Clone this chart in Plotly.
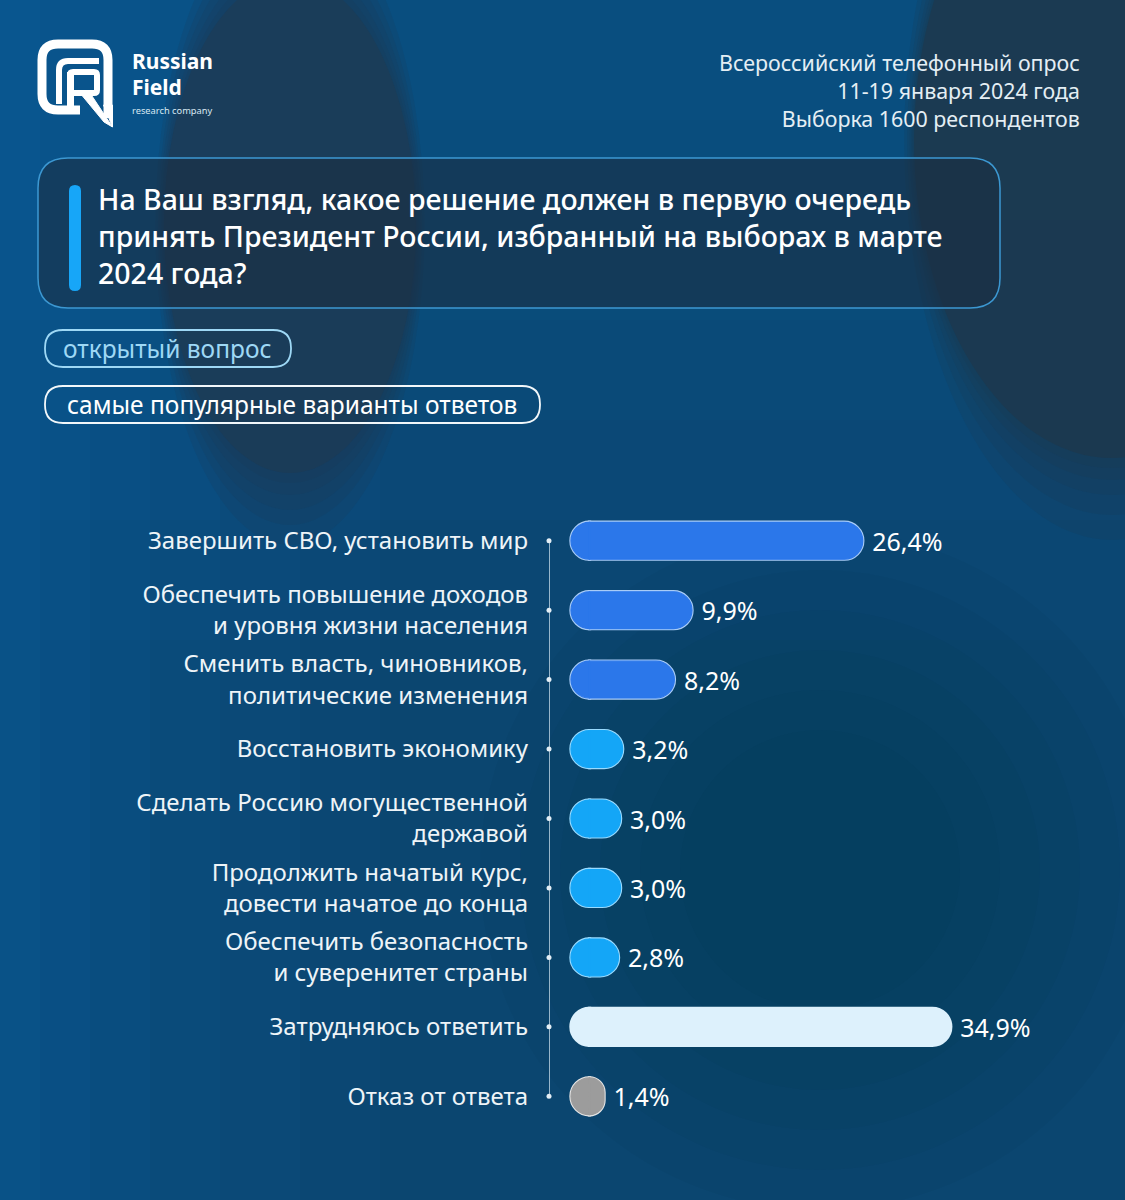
import plotly.graph_objects as go

W, H = 1125, 1200

categories = [
    "Завершить СВО, установить мир",
    "Обеспечить повышение доходов<br>и уровня жизни населения",
    "Сменить власть, чиновников,<br>политические изменения",
    "Восстановить экономику",
    "Сделать Россию могущественной<br>державой",
    "Продолжить начатый курс,<br>довести начатое до конца",
    "Обеспечить безопасность<br>и суверенитет страны",
    "Затрудняюсь ответить",
    "Отказ от ответа",
]
values = [26.4, 9.9, 8.2, 3.2, 3.0, 3.0, 2.8, 34.9, 1.4]
bar_colors = ["#2B77EA", "#2B77EA", "#2B77EA", "#14A6F7", "#14A6F7", "#14A6F7", "#14A6F7", "#DDF1FC", "#9C9C9C"]
bar_outline = ["#A9CCF7", "#A9CCF7", "#A9CCF7", "#9ADBFF", "#9ADBFF", "#9ADBFF", "#9ADBFF", "#DDF1FC", "#E6E6E6"]
value_labels = [" " + ("%.1f" % v).replace(".", ",") + "%" for v in values]

header_right = ["Всероссийский телефонный опрос", "11-19 января 2024 года", "Выборка 1600 респондентов"]
question = ["На Ваш взгляд, какое решение должен в первую очередь",
            "принять Президент России, избранный на выборах в марте",
            "2024 года?"]
pill1 = "открытый вопрос"
pill2 = "самые популярные варианты ответов"

FONT = "Noto Sans"

# pixel layout constants
SCALE = 10.35          # px per percent
BAR_PX = 37            # bar thickness in px
AXIS_PX = 549          # vertical guide line
START_PX = 571         # left end of the pills
ZERO_PX = START_PX + BAR_PX / 2
X_MIN = -(ZERO_PX - AXIS_PX) / SCALE
X_MAX = (W - ZERO_PX) / SCALE
CAP = (BAR_PX / 2) / SCALE


def px(x):
    return x / W


def py(y):
    return 1 - y / H


def path_of(cmds):
    s = ""
    for cmd, ps in cmds:
        s += cmd + " " + " ".join("%.5f,%.5f" % (px(a), py(b)) for a, b in ps) + " "
    return s


def rrect(x0, y0, x1, y1, r):
    return path_of([
        ("M", [(x0 + r, y0)]), ("L", [(x1 - r, y0)]), ("Q", [(x1, y0), (x1, y0 + r)]),
        ("L", [(x1, y1 - r)]), ("Q", [(x1, y1), (x1 - r, y1)]), ("L", [(x0 + r, y1)]),
        ("Q", [(x0, y1), (x0, y1 - r)]), ("L", [(x0, y0 + r)]), ("Q", [(x0, y0), (x0 + r, y0)]),
    ]) + "Z"


def ellipse(cx, cy, rx, ry):
    return dict(x0=px(cx - rx), x1=px(cx + rx), y0=py(cy + ry), y1=py(cy - ry))


fig = go.Figure()

# pill = value bar (rounded right end) + small negative cap (rounded left end)
# outline pass first, then a fill pass (with a thin same-colour edge) hiding the seam at zero
for lw, col in [(3.4, bar_outline), (1.2, bar_colors)]:
    fig.add_trace(go.Bar(
        x=[-CAP] * len(categories), y=categories, orientation="h",
        marker=dict(color=bar_colors, line=dict(color=col, width=lw), cornerradius="50%"),
        width=0.53, hoverinfo="skip",
    ))
    fig.add_trace(go.Bar(
        x=values, y=categories, orientation="h",
        marker=dict(color=bar_colors, line=dict(color=col, width=lw), cornerradius="50%"),
        width=0.53, hoverinfo="skip",
        text=value_labels if col is bar_colors else None, textposition="outside",
        textfont=dict(family=FONT, size=25, color="#FFFFFF"),
        cliponaxis=False,
    ))

fig.add_trace(go.Scatter(
    x=[X_MIN] * len(categories), y=categories, mode="lines+markers",
    line=dict(color="#C9DCEA", width=1.5),
    marker=dict(color="#E3EEF5", size=5),
    cliponaxis=False, hoverinfo="skip",
))

shapes = []
# background: soft gradients made of translucent layers
for y_, op in [(120, 0.1), (220, 0.1), (320, 0.1), (420, 0.1), (520, 0.08), (640, 0.08)]:
    shapes.append(dict(type="rect", xref="paper", yref="paper", x0=0, x1=1, y0=py(y_), y1=1,
                       fillcolor="#0E5E96", opacity=op, line=dict(width=0), layer="below"))
for w_, op in [(40, 0.12), (90, 0.12), (150, 0.1), (220, 0.1), (300, 0.08), (380, 0.06)]:
    shapes.append(dict(type="rect", xref="paper", yref="paper", x0=0, x1=px(w_), y0=0, y1=1,
                       fillcolor="#0E64A2", opacity=op, line=dict(width=0), layer="below"))
for r_ in [340, 300, 260, 220, 180, 140]:
    shapes.append(dict(type="circle", xref="paper", yref="paper", **ellipse(820, 870, r_, r_),
                       fillcolor="#062B44", opacity=0.06, line=dict(width=0), layer="below"))
# dark arches at the top
for i, ry in enumerate([320, 300, 285, 270, 258, 248]):
    shapes.append(dict(type="circle", xref="paper", yref="paper",
                       **ellipse(290, 225, 126 + (ry - 248) * 0.12, ry),
                       fillcolor="#1F3A4F", opacity=0.16 if i < 5 else 0.5,
                       line=dict(width=0), layer="below"))
for i, ry in enumerate([400, 375, 355, 340, 328, 318]):
    shapes.append(dict(type="circle", xref="paper", yref="paper",
                       **ellipse(1112, 140, 198 + (ry - 318) * 0.12, ry),
                       fillcolor="#20374A", opacity=0.16 if i < 5 else 0.6,
                       line=dict(width=0), layer="below"))

# logo
shapes.append(dict(type="path", xref="paper", yref="paper", layer="above",
                   path=path_of([("M", [(80, 110)]), ("L", [(58, 110)]), ("Q", [(42, 110), (42, 94)]),
                                 ("L", [(42, 60)]), ("Q", [(42, 44), (58, 44)]), ("L", [(92, 44)]),
                                 ("Q", [(108, 44), (108, 60)]), ("L", [(108, 118)])]),
                   line=dict(color="#FFFFFF", width=9), fillcolor="rgba(0,0,0,0)"))
shapes.append(dict(type="path", xref="paper", yref="paper", layer="above",
                   path=path_of([("M", [(103.5, 105)]), ("L", [(112.5, 105)]), ("L", [(112.5, 127)])]) + "Z",
                   line=dict(color="#FFFFFF", width=1), fillcolor="#FFFFFF"))
shapes.append(dict(type="path", xref="paper", yref="paper", layer="above",
                   path=path_of([("M", [(59, 104)]), ("L", [(59, 70)]), ("Q", [(59, 61), (68, 61)]),
                                 ("L", [(99, 61)])]),
                   line=dict(color="#FFFFFF", width=6), fillcolor="rgba(0,0,0,0)"))
shapes.append(dict(type="path", xref="paper", yref="paper", layer="above",
                   path=rrect(70, 72, 97, 93, 3), line=dict(color="#FFFFFF", width=6),
                   fillcolor="rgba(0,0,0,0)"))
shapes.append(dict(type="rect", xref="paper", yref="paper", layer="above",
                   x0=px(67), x1=px(74), y0=py(112), y1=py(72), line=dict(width=0), fillcolor="#FFFFFF"))
shapes.append(dict(type="path", xref="paper", yref="paper", layer="above",
                   path=path_of([("M", [(80, 93)]), ("L", [(90, 93)]), ("L", [(112.5, 127)]),
                                 ("L", [(104, 122)])]) + "Z",
                   line=dict(color="#FFFFFF", width=1), fillcolor="#FFFFFF"))

# question box
shapes.append(dict(type="path", xref="paper", yref="paper", layer="below",
                   path=rrect(38, 158, 1000, 308, 30), line=dict(color="#3C98D2", width=1.5),
                   fillcolor="rgba(26,46,66,0.6)"))
shapes.append(dict(type="path", xref="paper", yref="paper", layer="above",
                   path=rrect(69, 185, 81, 291, 6), line=dict(width=0), fillcolor="#17A6F8"))
# pills
shapes.append(dict(type="path", xref="paper", yref="paper", layer="above",
                   path=rrect(45, 330, 291, 367, 18), line=dict(color="#9ED8F5", width=1.8),
                   fillcolor="rgba(0,0,0,0)"))
shapes.append(dict(type="path", xref="paper", yref="paper", layer="above",
                   path=rrect(45, 386, 540, 423, 18), line=dict(color="#F2F7FA", width=1.8),
                   fillcolor="rgba(0,0,0,0)"))

annotations = [
    dict(text="Russian", x=px(130), y=py(61), xanchor="left",
         font=dict(family=FONT, size=21, color="#FFFFFF", weight=700)),
    dict(text="Field", x=px(130), y=py(87), xanchor="left",
         font=dict(family=FONT, size=21, color="#FFFFFF", weight=700)),
    dict(text="research company", x=px(130), y=py(110), xanchor="left",
         font=dict(family=FONT, size=9.3, color="#D8E8F2")),
    dict(text="<br>".join(header_right), x=px(1082), y=py(91), xanchor="right", align="right",
         font=dict(family=FONT, size=21.4, color="#E4EEF4")),
    dict(text="<br>".join(question), x=px(96), y=py(236), xanchor="left", align="left",
         font=dict(family=FONT, size=28.5, color="#FFFFFF", weight=500)),
    dict(text=pill1, x=px(167), y=py(348), font=dict(family=FONT, size=24.5, color="#9ED8F5")),
    dict(text=pill2, x=px(292), y=py(404), font=dict(family=FONT, size=24.5, color="#FFFFFF")),
]
for a in annotations:
    a.update(xref="paper", yref="paper", showarrow=False)
    a.setdefault("xanchor", "center")
    a.setdefault("yanchor", "middle")

fig.update_layout(
    width=W, height=H,
    margin=dict(l=0, r=0, t=0, b=0),
    paper_bgcolor="#0B4670", plot_bgcolor="rgba(0,0,0,0)",
    showlegend=False, barmode="overlay",
    shapes=shapes, annotations=annotations,
    xaxis=dict(domain=[px(AXIS_PX), 1], range=[X_MIN, X_MAX], visible=False, fixedrange=True),
    yaxis=dict(domain=[py(1131), py(506)], autorange=False, range=[8.5, -0.5],
               type="category", showgrid=False, zeroline=False, showline=False,
               ticks="", ticklabelstandoff=20,
               tickfont=dict(family=FONT, size=24, color="#EEF4F8"), fixedrange=True),
    font=dict(family=FONT),
)

fig.write_html("out.html", config={"displayModeBar": False},
               post_script="document.body.style.margin='0';document.body.style.overflow='hidden';")
